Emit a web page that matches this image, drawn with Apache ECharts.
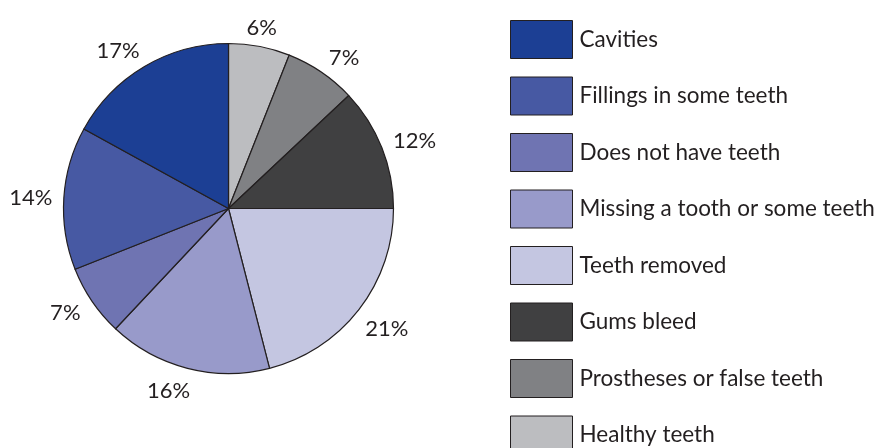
<!DOCTYPE html>
<html>
<head>
<meta charset="utf-8">
<script src="https://cdn.jsdelivr.net/npm/echarts@6/dist/echarts.min.js"></script>
<style>
  html, body { margin: 0; padding: 0; background: #fff; }
  #chart { width: 879px; height: 448px; }
</style>
</head>
<body>
<div id="chart"></div>
<script>
// Slices listed clockwise from 12 o'clock
const categories = [
  'Healthy teeth',
  'Prostheses or false teeth',
  'Gums bleed',
  'Teeth removed',
  'Missing a tooth or some teeth',
  'Does not have teeth',
  'Fillings in some teeth',
  'Cavities'
];
const shares = [6, 7, 12, 21, 16, 7, 14, 17];
const sliceColors = ['#bcbdc0', '#808184', '#404041', '#c4c6e1', '#989aca', '#6f74b2', '#4759a3', '#1c3f94'];
// Legend reads top to bottom in this order
const legendOrder = [
  'Cavities',
  'Fillings in some teeth',
  'Does not have teeth',
  'Missing a tooth or some teeth',
  'Teeth removed',
  'Gums bleed',
  'Prostheses or false teeth',
  'Healthy teeth'
];

const ink = '#231f20';
const font = 'Lato, "Open Sans", sans-serif';
const labelFontSize = 22;
const legendFontSize = 22.5;

const CX = 228.5, CY = 208.5, R = 165;
const LABEL_GAP = 11;
// small hand-set rotations (degrees) so labels sit where they read best
const labelTurn = [-0.5, 3, 1, -1, 4, 2, 0, -4];

// mid-angle of each slice, clockwise from 12 o'clock
const total = shares.reduce((a, b) => a + b, 0);
const midAngles = [];
shares.reduce((acc, v) => {
  midAngles.push((acc + v / 2) / total * Math.PI * 2);
  return acc + v;
}, 0);

const sliceData = categories.map((name, i) => ({
  name: name,
  value: shares[i],
  itemStyle: { color: sliceColors[i] }
}));

const chart = echarts.init(document.getElementById('chart'), null, { renderer: 'canvas' });
chart.setOption({
  animation: false,
  backgroundColor: '#ffffff',
  legend: {
    orient: 'vertical',
    left: 510,
    top: 20,
    height: 800,
    padding: 0,
    itemWidth: 62,
    itemHeight: 38,
    itemGap: 17.5,
    icon: 'rect',
    selectedMode: false,
    data: legendOrder,
    itemStyle: { borderColor: ink, borderWidth: 1 },
    textStyle: { color: ink, fontSize: legendFontSize, fontFamily: font, padding: [0, 0, 0, 2] }
  },
  series: [
    {
      type: 'pie',
      center: [CX, CY],
      radius: [0, R],
      startAngle: 90,
      clockwise: true,
      silent: true,
      data: sliceData,
      itemStyle: { borderColor: ink, borderWidth: 1.2 },
      label: {
        show: true,
        position: 'inside',
        formatter: '{c}%',
        color: ink,
        fontSize: labelFontSize,
        fontFamily: font
      },
      labelLine: { show: false },
      // keep each percentage just clear of the rim, along its slice's mid-angle
      labelLayout: function (p) {
        const a = midAngles[p.dataIndex] + labelTurn[p.dataIndex] * Math.PI / 180;
        const ux = Math.sin(a), uy = -Math.cos(a);
        const hw = p.labelRect.width / 2;
        const hh = labelFontSize * 0.34;
        const d = R + LABEL_GAP + hw * Math.abs(ux) + hh * Math.abs(uy);
        return {
          x: CX + d * ux,
          // digits sit a touch above the middle of the text box
          y: CY + d * uy + 2,
          align: 'center',
          verticalAlign: 'middle'
        };
      }
    }
  ]
});
</script>
</body>
</html>
